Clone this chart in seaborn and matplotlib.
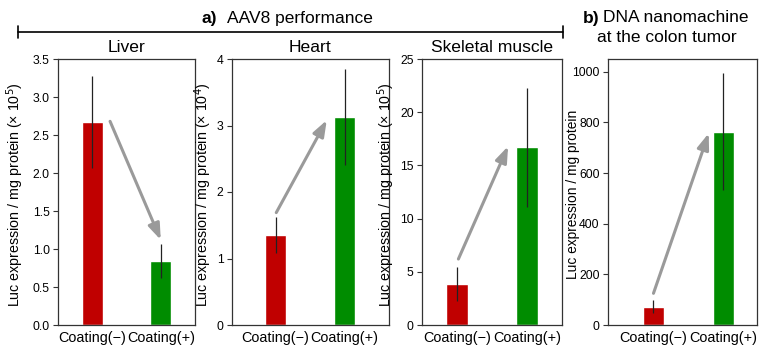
import matplotlib
matplotlib.use("Agg")
import matplotlib.pyplot as plt
from matplotlib.lines import Line2D
import seaborn as sns
import pandas as pd

sns.set_theme(style="ticks")
plt.rcParams['font.family'] = ['Liberation Sans', 'DejaVu Sans']
plt.rcParams['text.color'] = 'black'
plt.rcParams['axes.labelcolor'] = 'black'
plt.rcParams['xtick.color'] = 'black'
plt.rcParams['ytick.color'] = 'black'

# ---------------- data ----------------
categories = ["Coating(−)", "Coating(+)"]
panel_titles = ["Liver", "Heart", "Skeletal muscle", ""]
ylabels = [r"Luc expression / mg protein (× 10$^5$)",
           r"Luc expression / mg protein (× 10$^4$)",
           r"Luc expression / mg protein (× 10$^5$)",
           "Luc expression / mg protein"]
means = [[2.67, 0.84], [1.35, 3.13], [3.85, 16.7], [73, 762]]
errors = [[0.60, 0.22], [0.27, 0.72], [1.6, 5.6], [25, 231]]
ylims = [(0, 3.5), (0, 4), (0, 25), (0, 1050)]
yticks = [[0.0, 0.5, 1.0, 1.5, 2.0, 2.5, 3.0, 3.5], [0, 1, 2, 3, 4],
          [0, 5, 10, 15, 20, 25], [0, 200, 400, 600, 800, 1000]]
ytick_fmt = ["{:.1f}", "{:d}", "{:d}", "{:d}"]
# arrows: (x0, y0) -> (x1, y1) in data units
arrow_start = [(0.26, 2.68), (0.01, 1.69), (0.02, 6.2), (0.0, 125)]
arrow_end = [(1.0, 1.12), (0.74, 3.08), (0.73, 16.8), (0.79, 757)]
xlims = [(-0.5, 1.5), (-0.63, 1.64), (-0.5, 1.5), (-0.65, 1.48)]

colors = ["#C00000", "#008C00"]

# axes placement in pixels (left, right)
W, H = 760, 348
ax_px = [(58, 195), (232, 389), (422, 562), (608, 757)]
label_right_px = [26, 214, 397, 580]
top_px, bot_px = 59, 325
ylabel_fs = [10.3, 10.3, 10.3, 9.9]

fig = plt.figure(figsize=(W / 100, H / 100), dpi=100)

for i in range(4):
    l, r = ax_px[i]
    ax = fig.add_axes([l / W, (H - bot_px) / H, (r - l) / W, (bot_px - top_px) / H])
    df = pd.DataFrame({"cond": categories, "val": means[i]})
    sns.barplot(data=df, x="cond", y="val", hue="cond", palette=colors,
                width=0.31, ax=ax, legend=False, saturation=1, errorbar=None)
    ax.errorbar(range(len(categories)), means[i], yerr=errors[i], fmt="none",
                ecolor="#222222", elinewidth=0.9, capsize=0)
    ax.annotate("", xy=arrow_end[i], xytext=arrow_start[i],
                arrowprops=dict(arrowstyle="-|>,head_length=0.6,head_width=0.22",
                                color="#9a9a9a", lw=2.2, mutation_scale=16,
                                shrinkA=0, shrinkB=0))
    ax.set_xlim(*xlims[i])
    ax.set_ylim(*ylims[i])
    ax.set_yticks(yticks[i])
    ax.set_yticklabels([ytick_fmt[i].format(v) for v in yticks[i]], fontsize=8.8)
    ax.set_xlabel("")
    ax.set_ylabel(ylabels[i], fontsize=ylabel_fs[i])
    ax.yaxis.set_label_coords((label_right_px[i] - l) / (r - l), 0.49)
    ax.tick_params(axis="x", length=0, labelsize=10.4, pad=4)
    ax.tick_params(axis="y", length=3.5, width=0.8, pad=2.5, color="#333333")
    for s in ax.spines.values():
        s.set_visible(True)
        s.set_linewidth(0.9)
        s.set_color("#333333")
    if panel_titles[i]:
        ax.set_title(panel_titles[i], fontsize=12.6, pad=5)

# header for panel a
fig.text(201 / W, 1 - 18 / H, "a)", fontsize=12.5, fontweight="bold", va="center", ha="left")
fig.text(227 / W, 1 - 18 / H, "AAV8 performance", fontsize=12.5, va="center", ha="left")
y_line = 1 - 32 / H
fig.add_artist(Line2D([18 / W, 563 / W], [y_line, y_line], color="black", lw=1.2,
                      transform=fig.transFigure))
for xp in (18, 563):
    fig.add_artist(Line2D([xp / W, xp / W], [1 - 26 / H, 1 - 38 / H], color="black",
                          lw=1.2, transform=fig.transFigure))

# header for panel b
fig.text(583 / W, 1 - 18 / H, "b)", fontsize=12.5, fontweight="bold", va="center", ha="left")
fig.text(603 / W, 1 - 18 / H, "DNA nanomachine", fontsize=12.5, va="center", ha="left")
fig.text(667 / W, 1 - 37 / H, "at the colon tumor", fontsize=12.5, va="center", ha="center")

fig.savefig("out.png", dpi=100)
